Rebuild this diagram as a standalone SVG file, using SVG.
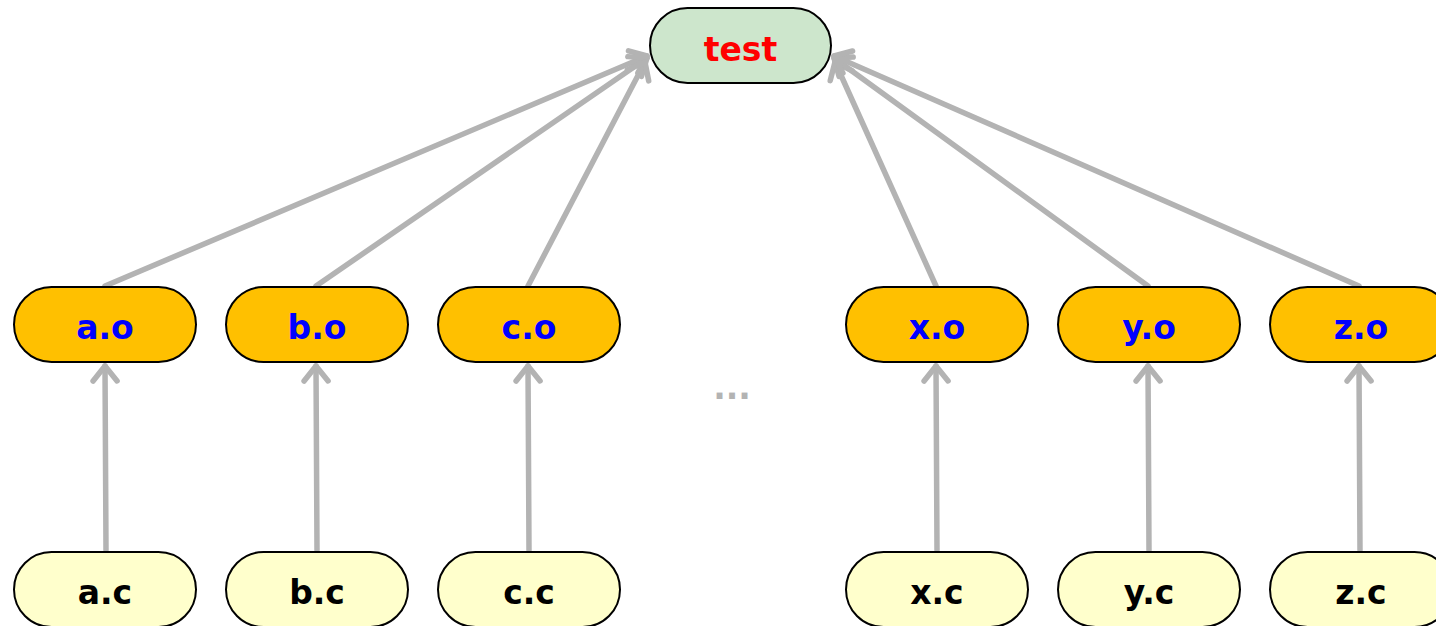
<svg xmlns="http://www.w3.org/2000/svg" width="1436" height="626" viewBox="0 0 1436 626">
  <style>
    .node rect { stroke: #000; stroke-width: 2; }
    .target rect { fill: #cde6cc; }
    .obj rect { fill: #ffc000; }
    .src rect { fill: #ffffcc; }
    text { font-family: "DejaVu Sans", Verdana, sans-serif; font-weight: bold; font-size: 33px; text-anchor: middle; }
    .target text { fill: #ff0000; }
    .obj text { fill: #0000ff; }
    .src text { fill: #000; }
    .edge { stroke: #b3b3b3; stroke-width: 5.5; fill: none; stroke-linecap: round; marker-end: url(#arrow); }
    .ellipsis { fill: #b3b3b3; }
  </style>
  <defs>
    <marker id="arrow" markerUnits="userSpaceOnUse" viewBox="-24 -18 30 36" refX="0" refY="0" markerWidth="30" markerHeight="36" orient="auto" overflow="visible">
      <path d="M -15 -12 L 0 0 L -15 12" fill="none" stroke="#b3b3b3" stroke-width="5.5" stroke-linecap="round" stroke-linejoin="round"/>
    </marker>
  </defs>

  <rect width="1436" height="626" fill="#fff"/>

  <!-- dependency edges -->
  <g id="edges">
    <line class="edge" x1="105" y1="286" x2="647" y2="56"/>
    <line class="edge" x1="316" y1="286" x2="647" y2="58"/>
    <line class="edge" x1="528" y1="286" x2="645" y2="62"/>
    <line class="edge" x1="936" y1="286" x2="835" y2="62"/>
    <line class="edge" x1="1148" y1="286" x2="834" y2="58"/>
    <line class="edge" x1="1359" y1="286" x2="834" y2="56"/>
    <line class="edge" x1="106" y1="550" x2="105" y2="366"/>
    <line class="edge" x1="317" y1="550" x2="316" y2="366"/>
    <line class="edge" x1="529" y1="550" x2="528" y2="366"/>
    <line class="edge" x1="937" y1="550" x2="936" y2="366"/>
    <line class="edge" x1="1149" y1="550" x2="1148" y2="366"/>
    <line class="edge" x1="1360" y1="550" x2="1359" y2="366"/>
  </g>

  <!-- link target -->
  <g id="test" class="node target">
    <rect x="650" y="8" width="181" height="75" rx="37.5"/>
    <text x="740.5" y="61">test</text>
  </g>

  <!-- object files -->
  <g id="a_o" class="node obj"><rect x="14" y="287" width="182" height="75" rx="37.5"/><text x="105" y="339">a.o</text></g>
  <g id="b_o" class="node obj"><rect x="226" y="287" width="182" height="75" rx="37.5"/><text x="317" y="339">b.o</text></g>
  <g id="c_o" class="node obj"><rect x="438" y="287" width="182" height="75" rx="37.5"/><text x="529" y="339">c.o</text></g>
  <g id="x_o" class="node obj"><rect x="846" y="287" width="182" height="75" rx="37.5"/><text x="937" y="339">x.o</text></g>
  <g id="y_o" class="node obj"><rect x="1058" y="287" width="182" height="75" rx="37.5"/><text x="1149" y="339">y.o</text></g>
  <g id="z_o" class="node obj"><rect x="1270" y="287" width="182" height="75" rx="37.5"/><text x="1361" y="339">z.o</text></g>

  <!-- source files -->
  <g id="a_c" class="node src"><rect x="14" y="552" width="182" height="75" rx="37.5"/><text x="105" y="604">a.c</text></g>
  <g id="b_c" class="node src"><rect x="226" y="552" width="182" height="75" rx="37.5"/><text x="317" y="604">b.c</text></g>
  <g id="c_c" class="node src"><rect x="438" y="552" width="182" height="75" rx="37.5"/><text x="529" y="604">c.c</text></g>
  <g id="x_c" class="node src"><rect x="846" y="552" width="182" height="75" rx="37.5"/><text x="937" y="604">x.c</text></g>
  <g id="y_c" class="node src"><rect x="1058" y="552" width="182" height="75" rx="37.5"/><text x="1149" y="604">y.c</text></g>
  <g id="z_c" class="node src"><rect x="1270" y="552" width="182" height="75" rx="37.5"/><text x="1361" y="604">z.c</text></g>

  <text class="ellipsis" x="732" y="399">...</text>
</svg>
